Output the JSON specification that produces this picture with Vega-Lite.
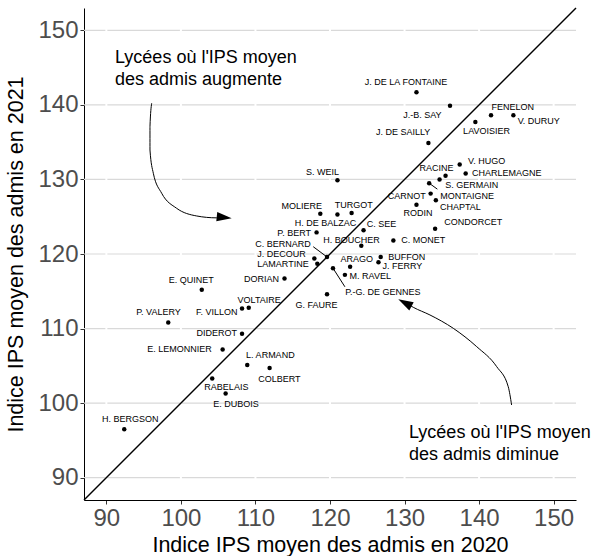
{
  "$schema": "https://vega.github.io/schema/vega-lite/v6.json",
  "width": 492,
  "height": 492,
  "autosize": {"type": "none"},
  "padding": {"left": 84, "top": 8, "right": 18, "bottom": 56},
  "background": "white",
  "config": {
    "view": {"stroke": null},
    "font": "Liberation Sans",
    "axis": {
      "grid": false,
      "domainColor": "black",
      "domainWidth": 1,
      "tickColor": "#333333",
      "tickSize": 4,
      "tickWidth": 1,
      "labelFont": "Liberation Sans",
      "labelFontSize": 24,
      "labelColor": "#4d4d4d",
      "labelPadding": 2,
      "titleFont": "Liberation Sans",
      "titleFontSize": 21.5,
      "titleFontWeight": "normal",
      "titleColor": "black",
      "zindex": 1
    }
  },
  "datasets": {
    "grid": [{"v": 90}, {"v": 100}, {"v": 110}, {"v": 120}, {"v": 130}, {"v": 140}, {"v": 150}],
    "diag": [{"x": 87, "y": 87, "x2": 153, "y2": 153}],
    "schools": [
      {"name": "J. DE LA FONTAINE", "x": 131.6, "y": 141.7, "lx": 130.2, "ly": 143.1},
      {"name": "J.-B. SAY", "x": 136.1, "y": 139.9, "lx": 132.4, "ly": 138.6},
      {"name": "FENELON", "x": 141.6, "y": 138.6, "lx": 144.5, "ly": 139.7},
      {"name": "V. DURUY", "x": 144.6, "y": 138.6, "lx": 148.0, "ly": 137.8},
      {"name": "LAVOISIER", "x": 139.5, "y": 137.7, "lx": 141.0, "ly": 136.5},
      {"name": "J. DE SAILLY", "x": 133.2, "y": 134.9, "lx": 129.8, "ly": 136.3},
      {"name": "V. HUGO", "x": 137.4, "y": 132.0, "lx": 141.0, "ly": 132.5},
      {"name": "CHARLEMAGNE", "x": 138.2, "y": 130.8, "lx": 143.7, "ly": 130.9},
      {"name": "S. GERMAIN", "x": 135.5, "y": 130.5, "lx": 139.0, "ly": 129.2},
      {"name": "RACINE", "x": 134.7, "y": 130.0, "lx": 134.3, "ly": 131.5},
      {"name": "MONTAIGNE", "x": 133.3, "y": 129.5, "lx": 138.4, "ly": 127.8},
      {"name": "CARNOT", "x": 133.5, "y": 128.1, "lx": 130.3, "ly": 127.8},
      {"name": "CHAPTAL", "x": 134.2, "y": 127.2, "lx": 137.5, "ly": 126.3},
      {"name": "RODIN", "x": 131.6, "y": 126.6, "lx": 131.8, "ly": 125.5},
      {"name": "CONDORCET", "x": 134.1, "y": 123.4, "lx": 139.2, "ly": 124.3},
      {"name": "C. SEE", "x": 124.5, "y": 123.2, "lx": 126.9, "ly": 124.0},
      {"name": "C. MONET", "x": 128.5, "y": 121.8, "lx": 132.5, "ly": 121.9},
      {"name": "H. BOUCHER", "x": 124.2, "y": 121.1, "lx": 122.9, "ly": 121.9},
      {"name": "BUFFON", "x": 126.8, "y": 119.6, "lx": 130.3, "ly": 119.6},
      {"name": "J. FERRY", "x": 126.5, "y": 118.9, "lx": 129.7, "ly": 118.4},
      {"name": "MOLIERE", "x": 118.7, "y": 125.4, "lx": 116.2, "ly": 126.5},
      {"name": "H. DE BALZAC", "x": 121.0, "y": 125.3, "lx": 119.4, "ly": 124.1},
      {"name": "TURGOT", "x": 122.9, "y": 125.5, "lx": 123.2, "ly": 126.6},
      {"name": "P. BERT", "x": 118.2, "y": 122.9, "lx": 115.2, "ly": 122.8},
      {"name": "C. BERNARD", "x": 119.6, "y": 119.6, "lx": 113.7, "ly": 121.3},
      {"name": "J. DECOUR", "x": 117.9, "y": 119.4, "lx": 113.5, "ly": 120.0},
      {"name": "LAMARTINE", "x": 118.3, "y": 118.7, "lx": 113.7, "ly": 118.7},
      {"name": "P.-G. DE GENNES", "x": 120.4, "y": 118.1, "lx": 127.1, "ly": 114.9},
      {"name": "ARAGO", "x": 122.7, "y": 118.3, "lx": 123.6, "ly": 119.3},
      {"name": "M. RAVEL", "x": 122.0, "y": 117.2, "lx": 125.4, "ly": 117.1},
      {"name": "G. FAURE", "x": 119.6, "y": 114.6, "lx": 118.2, "ly": 113.2},
      {"name": "DORIAN", "x": 113.9, "y": 116.7, "lx": 110.8, "ly": 116.7},
      {"name": "E. QUINET", "x": 102.8, "y": 115.2, "lx": 101.4, "ly": 116.5},
      {"name": "F. VILLON", "x": 108.2, "y": 112.7, "lx": 104.8, "ly": 112.2},
      {"name": "VOLTAIRE", "x": 109.1, "y": 112.8, "lx": 110.5, "ly": 113.8},
      {"name": "P. VALERY", "x": 98.3, "y": 110.8, "lx": 97.0, "ly": 112.2},
      {"name": "DIDEROT", "x": 108.2, "y": 109.3, "lx": 104.8, "ly": 109.4},
      {"name": "E. LEMONNIER", "x": 105.6, "y": 107.2, "lx": 99.8, "ly": 107.3},
      {"name": "L. ARMAND", "x": 108.9, "y": 105.1, "lx": 112.0, "ly": 106.5},
      {"name": "COLBERT", "x": 111.9, "y": 104.7, "lx": 113.2, "ly": 103.2},
      {"name": "RABELAIS", "x": 104.2, "y": 103.3, "lx": 106.1, "ly": 102.2},
      {"name": "E. DUBOIS", "x": 106.0, "y": 101.3, "lx": 107.4, "ly": 99.9},
      {"name": "H. BERGSON", "x": 92.4, "y": 96.5, "lx": 93.2, "ly": 97.8},
      {"name": "S. WEIL", "x": 121.0, "y": 129.9, "lx": 119.0, "ly": 131.0}
    ],
    "leaders": [
      {"name": "C. BERNARD", "x": 119.6, "y": 119.6, "x2": 117.75, "y2": 120.98},
      {"name": "P.-G. DE GENNES", "x": 120.4, "y": 118.1, "x2": 122.0, "y2": 115.6},
      {"name": "MONTAIGNE", "x": 133.3, "y": 129.5, "x2": 134.4, "y2": 128.7}
    ],
    "arrows": [
      {"arrow": "haut", "i": 1, "x": 96.08, "y": 140.22},
      {"arrow": "haut", "i": 2, "x": 95.85, "y": 137.08},
      {"arrow": "haut", "i": 3, "x": 95.85, "y": 133.95},
      {"arrow": "haut", "i": 4, "x": 96.30, "y": 130.83},
      {"arrow": "haut", "i": 5, "x": 97.42, "y": 128.15},
      {"arrow": "haut", "i": 6, "x": 99.43, "y": 126.13},
      {"arrow": "haut", "i": 7, "x": 102.12, "y": 125.10},
      {"arrow": "haut", "i": 8, "x": 104.80, "y": 124.85},
      {"arrow": "haut", "i": 9, "x": 105.56, "y": 124.90},
      {"arrow": "bas", "i": 1, "x": 144.36, "y": 99.75},
      {"arrow": "bas", "i": 2, "x": 143.91, "y": 102.20},
      {"arrow": "bas", "i": 3, "x": 142.36, "y": 104.89},
      {"arrow": "bas", "i": 4, "x": 139.68, "y": 107.57},
      {"arrow": "bas", "i": 5, "x": 136.54, "y": 110.03},
      {"arrow": "bas", "i": 6, "x": 133.41, "y": 111.82},
      {"arrow": "bas", "i": 7, "x": 131.17, "y": 112.85},
      {"arrow": "bas", "i": 8, "x": 130.30, "y": 113.36}
    ],
    "heads": [
      {"arrow": "haut", "x": 105.56, "y": 124.94, "angle": 96},
      {"arrow": "bas", "x": 130.27, "y": 113.34, "angle": 298}
    ],
    "notes": [
      {"text": "Lycées où l'IPS moyen", "x": 91.16, "y": 146.25},
      {"text": "des admis augmente", "x": 91.16, "y": 143.3},
      {"text": "Lycées où l'IPS moyen", "x": 130.6, "y": 96.0},
      {"text": "des admis diminue", "x": 130.6, "y": 93.1}
    ]
  },
  "layer": [
    {
      "data": {"name": "grid"},
      "mark": {"type": "rule", "color": "#d9d9d9", "strokeWidth": 1.2},
      "encoding": {
        "y": {"field": "v", "type": "quantitative", "scale": {"domain": [87, 153], "nice": false, "zero": false},
              "axis": {"title": "Indice IPS moyen des admis en 2021", "titlePadding": 10, "values": [90, 100, 110, 120, 130, 140, 150]}}
      }
    },
    {
      "data": {"name": "grid"},
      "mark": {"type": "rule", "color": "white", "strokeWidth": 2},
      "encoding": {
        "x": {"field": "v", "type": "quantitative", "scale": {"domain": [87, 153], "nice": false, "zero": false},
              "axis": {"title": "Indice IPS moyen des admis en 2020", "titlePadding": 4, "values": [90, 100, 110, 120, 130, 140, 150]}}
      }
    },
    {
      "data": {"name": "diag"},
      "mark": {"type": "rule", "color": "black", "strokeWidth": 1.4},
      "encoding": {
        "x": {"field": "x", "type": "quantitative"},
        "y": {"field": "y", "type": "quantitative"},
        "x2": {"field": "x2"},
        "y2": {"field": "y2"}
      }
    },
    {
      "data": {"name": "arrows"},
      "mark": {"type": "line", "color": "black", "strokeWidth": 1, "interpolate": "monotone"},
      "encoding": {
        "x": {"field": "x", "type": "quantitative"},
        "y": {"field": "y", "type": "quantitative"},
        "detail": {"field": "arrow"},
        "order": {"field": "i"}
      }
    },
    {
      "data": {"name": "heads"},
      "mark": {"type": "point", "shape": "M0,-1L0.5,0.6L-0.5,0.6Z", "filled": true, "color": "black", "opacity": 1, "size": 350},
      "encoding": {
        "x": {"field": "x", "type": "quantitative"},
        "y": {"field": "y", "type": "quantitative"},
        "angle": {"field": "angle", "type": "quantitative", "scale": null}
      }
    },
    {
      "data": {"name": "leaders"},
      "mark": {"type": "rule", "color": "black", "strokeWidth": 1},
      "encoding": {
        "x": {"field": "x", "type": "quantitative"},
        "y": {"field": "y", "type": "quantitative"},
        "x2": {"field": "x2"},
        "y2": {"field": "y2"}
      }
    },
    {
      "data": {"name": "schools"},
      "mark": {"type": "circle", "color": "black", "opacity": 1, "size": 20},
      "encoding": {
        "x": {"field": "x", "type": "quantitative"},
        "y": {"field": "y", "type": "quantitative"}
      }
    },
    {
      "data": {"name": "schools"},
      "mark": {"type": "text", "font": "Liberation Sans", "fontSize": 9, "color": "black", "align": "center", "baseline": "middle"},
      "encoding": {
        "x": {"field": "lx", "type": "quantitative"},
        "y": {"field": "ly", "type": "quantitative"},
        "text": {"field": "name"}
      }
    },
    {
      "data": {"name": "notes"},
      "mark": {"type": "text", "font": "Liberation Sans", "fontSize": 18, "color": "black", "align": "left", "baseline": "middle"},
      "encoding": {
        "x": {"field": "x", "type": "quantitative"},
        "y": {"field": "y", "type": "quantitative"},
        "text": {"field": "text"}
      }
    }
  ]
}
